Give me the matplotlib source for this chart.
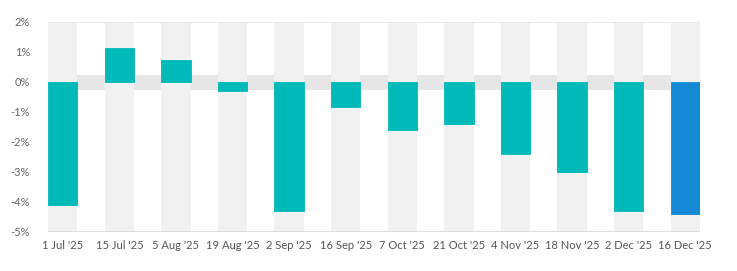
import matplotlib
matplotlib.use("Agg")
import matplotlib.pyplot as plt

categories = ["1 Jul '25", "15 Jul '25", "5 Aug '25", "19 Aug '25", "2 Sep '25", "16 Sep '25",
              "7 Oct '25", "21 Oct '25", "4 Nov '25", "18 Nov '25", "2 Dec '25", "16 Dec '25"]
values = [-4.1, 1.15, 0.73, -0.31, -4.3, -0.82, -1.61, -1.41, -2.41, -3.01, -4.3, -4.39]
bar_colors = ["#00b9b9"] * 11 + ["#1589d6"]
yticks = [2, 1, 0, -1, -2, -3, -4, -5]
band_low, band_high = -0.25, 0.25

plt.rcParams['font.family'] = ['Lato', 'DejaVu Sans']

fig = plt.figure(figsize=(7.37, 2.71), dpi=100)
ax = fig.add_axes([48/737, 1-232/271, 652/737, 210/271])

w = 0.52
n = len(categories)
ax.set_xlim(-w/2, n - 1 + w/2)
ax.set_ylim(-5, 2)

ax.axhspan(band_low, band_high, color="#e6e6e6", zorder=0, lw=0)
for i in range(n):
    ax.axvspan(i - w/2, i + w/2, color="#f1f1f1", zorder=1, lw=0)

bars = ax.bar(range(n), values, width=w, color=bar_colors, zorder=3,
              edgecolor=bar_colors, lw=0.6, joinstyle='round')

ax.axhline(2, color="#e6e6e6", lw=1.2, zorder=4)
ax.axhline(-5, color="#d8d8d8", lw=1.2, zorder=4)

for s in ax.spines.values():
    s.set_visible(False)
ax.set_yticks(yticks)
ax.set_yticklabels([f"{t}%" for t in yticks], color="#666666", fontsize=8)
ax.set_xticks(range(n))
ax.set_xticklabels(categories, color="#555555", fontsize=8)
ax.tick_params(axis='both', length=0)
ax.tick_params(axis='y', pad=13)
ax.tick_params(axis='x', pad=6)

fig.savefig("out.png", dpi=100)
